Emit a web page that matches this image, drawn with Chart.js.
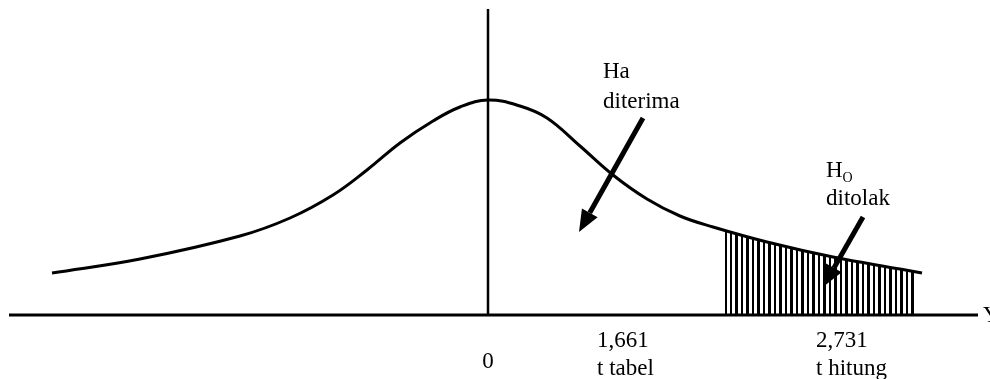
<!DOCTYPE html>
<html>
<head>
<meta charset="utf-8">
<script src="https://cdn.jsdelivr.net/npm/chart.js@4.4.1/dist/chart.umd.min.js"></script>
<style>
  html, body { margin: 0; padding: 0; background: #fff; }
  #kurva { display: block; }
</style>
</head>
<body>
<canvas id="kurva" width="990" height="379"></canvas>
<script>
// === Data kurva distribusi t ===
const curveX = [-4.36, -3.48, -2.48, -1.98, -1.55, -1.21, -0.88, -0.55, -0.28, 0, 0.32, 0.59, 0.92, 1.25, 1.59, 1.92, 2.25, 2.79, 3.45, 4.12, 4.34];
const curveY = [0.42, 0.56, 0.79, 0.97, 1.20, 1.45, 1.72, 1.94, 2.08, 2.15, 2.09, 1.97, 1.69, 1.40, 1.16, 0.99, 0.88, 0.73, 0.58, 0.46, 0.42];

// daerah penolakan Ho (arsiran)
const tailX = [2.37, 2.79, 3.45, 4.12, 4.27];
const tailY = [0.84, 0.73, 0.58, 0.46, 0.44];

// sumbu
const axisX = [-4.79, 4.90];
const centerLineTop = 3.06;

// label di bawah sumbu
const tickLabels = ["0", "1,661", "2,731"];
const tickNames = ["", "t tabel", "t hitung"];

const FONT = '23px "Liberation Serif", "Times New Roman", serif';

// === Pola arsiran garis vertikal ===
const pat = document.createElement("canvas");
pat.width = 11;
pat.height = 4;
const pctx = pat.getContext("2d");
pctx.fillStyle = "#fff";
pctx.fillRect(0, 0, 11, 4);
pctx.fillStyle = "#000";
pctx.fillRect(0, 0, 3, 4);
pctx.fillRect(6, 0, 2, 4);
const hatch = document.getElementById("kurva").getContext("2d").createPattern(pat, "repeat");

function pts(xs, ys) {
  return xs.map((x, i) => ({ x, y: ys[i] }));
}

// === Plugin untuk teks dan panah ===
const anotasi = {
  id: "anotasi",
  afterLayout(chart) {
    const off = chart.scales.x.getPixelForValue(tailX[0]);
    if (hatch.setTransform) hatch.setTransform(new DOMMatrix().translate(Math.round(off) - 1, 0));
  },
  afterDatasetsDraw(chart) {
    const { ctx } = chart;
    const sx = chart.scales.x, sy = chart.scales.y;
    const px = v => sx.getPixelForValue(v);
    const py = v => sy.getPixelForValue(v);

    function arrow(x1, y1, x2, y2) {
      const a = px(x1), b = py(y1), c = px(x2), d = py(y2);
      const ang = Math.atan2(d - b, c - a);
      const len = 22, half = 9;
      const bx = c - len * Math.cos(ang), by = d - len * Math.sin(ang);
      ctx.save();
      ctx.strokeStyle = "#000";
      ctx.fillStyle = "#000";
      ctx.lineWidth = 5;
      ctx.beginPath();
      ctx.moveTo(a, b);
      ctx.lineTo(bx, by);
      ctx.stroke();
      ctx.beginPath();
      ctx.moveTo(c, d);
      ctx.lineTo(bx + half * Math.sin(ang), by - half * Math.cos(ang));
      ctx.lineTo(bx - half * Math.sin(ang), by + half * Math.cos(ang));
      ctx.closePath();
      ctx.fill();
      ctx.restore();
    }

    arrow(1.55, 1.97, 0.91, 0.83);
    arrow(3.75, 0.98, 3.35, 0.28);

    ctx.save();
    ctx.fillStyle = "#000";
    ctx.font = FONT;
    ctx.textBaseline = "alphabetic";
    ctx.textAlign = "left";

    ctx.fillText("Ha", px(1.15), py(2.37));
    ctx.fillText("diterima", px(1.15), py(2.07));

    ctx.fillText("H", px(3.38), py(1.38));
    const wH = ctx.measureText("H").width;
    ctx.font = '14px "Liberation Serif", "Times New Roman", serif';
    ctx.fillText("O", px(3.38) + wH, py(1.33));
    ctx.font = FONT;
    ctx.fillText("ditolak", px(3.38), py(1.10));

    // label bawah
    ctx.textAlign = "center";
    ctx.fillText(tickLabels[0], px(0), py(-0.53));
    ctx.textAlign = "left";
    ctx.fillText(tickLabels[1], px(1.09), py(-0.32));
    ctx.fillText(tickNames[1], px(1.09), py(-0.60));
    ctx.fillText(tickLabels[2], px(3.28), py(-0.32));
    ctx.fillText(tickNames[2], px(3.28), py(-0.60));

    // huruf terpotong di ujung sumbu
    ctx.fillText("Y", px(4.95), py(-0.07));
    ctx.restore();
  }
};

// === Grafik ===
new Chart(document.getElementById("kurva"), {
  type: "scatter",
  data: {
    datasets: [
      {
        data: pts(curveX, curveY),
        showLine: true,
        borderColor: "#000",
        borderWidth: 3,
        pointRadius: 0,
        tension: 0.4,
        fill: false,
        order: 0,
      },
      {
        data: pts(axisX, [0, 0]),
        showLine: true,
        borderColor: "#000",
        borderWidth: 3,
        pointRadius: 0,
        order: 1,
      },
      {
        data: pts([0, 0], [0, centerLineTop]),
        showLine: true,
        borderColor: "#000",
        borderWidth: 2.5,
        pointRadius: 0,
        order: 1,
      },
      {
        data: pts(tailX, tailY),
        showLine: true,
        borderColor: "rgba(0,0,0,0)",
        borderWidth: 0,
        pointRadius: 0,
        tension: 0.4,
        fill: "origin",
        backgroundColor: hatch,
        order: 2,
      },
    ],
  },
  options: {
    responsive: false,
    animation: false,
    devicePixelRatio: 1,
    layout: { padding: 0 },
    plugins: {
      legend: { display: false },
      tooltip: { enabled: false },
    },
    scales: {
      x: { type: "linear", min: -4.88, max: 5.02, display: false },
      y: { type: "linear", min: -0.64, max: 3.15, display: false },
    },
  },
  plugins: [anotasi],
});
</script>
</body>
</html>
